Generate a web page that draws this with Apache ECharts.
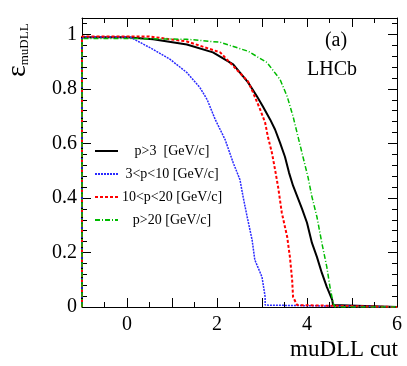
<!DOCTYPE html>
<html>
<head>
<meta charset="utf-8">
<script src="https://cdn.jsdelivr.net/npm/echarts@6/dist/echarts.min.js"></script>
<style>
html, body { margin: 0; padding: 0; background: #fff; }
#chart { width: 407px; height: 366px; }
</style>
</head>
<body>
<div id="chart"></div>
<script>
// series names (legend)
var names = ['p>3  [GeV/c]', '3<p<10 [GeV/c]', '10<p<20 [GeV/c]', 'p>20 [GeV/c]'];
var colors = ['#000000', '#2a2aff', '#ff0000', '#00bb00'];

// efficiency vs muDLL cut: [cut, eff]
var allP = [[-1, 0], [-1, 0.989], [0, 0.989], [0.58, 0.982], [1.33, 0.963], [1.91, 0.934], [2.36, 0.89],
    [2.69, 0.824], [2.89, 0.772], [3.02, 0.735], [3.18, 0.688], [3.29, 0.651], [3.4, 0.603],
    [3.51, 0.551], [3.6, 0.493], [3.69, 0.445], [3.89, 0.36], [4.0, 0.309],
    [4.11, 0.235], [4.22, 0.184], [4.33, 0.125], [4.44, 0.074], [4.56, 0.026], [4.58, 0.007],
    [4.6, 0], [6, 0]];
var lowP = [[-1, 0], [-1, 0.99], [0.07, 0.99], [0.58, 0.945], [0.96, 0.908], [1.33, 0.86], [1.62, 0.805],
    [1.78, 0.761], [1.96, 0.688], [2.18, 0.614], [2.36, 0.529], [2.51, 0.467], [2.58, 0.404],
    [2.67, 0.331], [2.78, 0.246], [2.84, 0.173], [3.0, 0.11], [3.07, 0.037], [3.07, 0.007],
    [3.1, 0], [6, 0]];
var midP = [[-1, 0], [-1, 0.992], [0.5, 0.992], [1.33, 0.974], [2.07, 0.934], [2.69, 0.827], [2.8, 0.787],
    [2.96, 0.724], [3.07, 0.676], [3.13, 0.625], [3.22, 0.566], [3.29, 0.504], [3.36, 0.438],
    [3.44, 0.346], [3.56, 0.257], [3.62, 0.184], [3.67, 0.099], [3.69, 0.037], [3.78, 0.007],
    [3.8, 0], [6, 0]];
var highP = [[-1, 0], [-1, 0.985], [0, 0.985], [1.33, 0.982], [2.07, 0.971], [2.69, 0.938], [3.11, 0.897],
    [3.4, 0.835], [3.56, 0.772], [3.69, 0.699], [3.8, 0.625], [3.91, 0.551], [4.02, 0.478],
    [4.11, 0.404], [4.22, 0.331], [4.33, 0.235], [4.44, 0.147], [4.51, 0.074], [4.58, 0.015],
    [4.62, 0], [6, 0]];

var xLabels = [0, 2, 4, 6];
var yLabels = [0, 0.2, 0.4, 0.6, 0.8, 1];

var font = 'Liberation Serif';
var dashes = ['solid', [2, 1], [3, 2], [5, 2, 1, 2]];
var widths = [2, 1.5, 2, 1.5];
var chart = echarts.init(document.getElementById('chart'));

function xAxisCfg(pos, showLabel) {
    return {
        type: 'value', position: pos, min: -1, max: 6, interval: 1,
        axisLine: { show: true, onZero: false, lineStyle: { color: '#000', width: 1 } },
        axisTick: { inside: true, length: 9, lineStyle: { color: '#000' } },
        minorTick: { show: true, splitNumber: 2, length: 5, lineStyle: { color: '#000' } },
        splitLine: { show: false },
        axisLabel: {
            show: showLabel, color: '#000', fontFamily: font, fontSize: 20, margin: 8,
            formatter: function (v) { return xLabels.indexOf(v) >= 0 ? String(v) : ''; }
        }
    };
}
function yAxisCfg(pos, showLabel) {
    return {
        type: 'value', position: pos, min: 0, max: 1.06, interval: 0.2,
        axisLine: { show: true, onZero: false, lineStyle: { color: '#000', width: 1 } },
        axisTick: { inside: true, length: 9, lineStyle: { color: '#000' } },
        minorTick: { show: true, splitNumber: 5, length: 5, lineStyle: { color: '#000' } },
        splitLine: { show: false },
        axisLabel: {
            show: showLabel, color: '#000', fontFamily: font, fontSize: 20, margin: 5,
            formatter: function (v) {
                var r = Math.round(v * 10) / 10;
                return yLabels.indexOf(r) >= 0 && Math.abs(v - r) < 1e-6 ? String(r) : '';
            }
        }
    };
}

var seriesData = [allP, lowP, midP, highP];
var series = [];
var legendData = [];
for (var i = 0; i < names.length; i++) {
    series.push({
        name: names[i], type: 'line', data: seriesData[i], symbol: 'none',
        lineStyle: { color: colors[i], width: widths[i], type: dashes[i] },
        itemStyle: { color: colors[i] }
    });
    legendData.push({
        name: names[i],
        itemStyle: { opacity: 0 },
        lineStyle: { color: colors[i], width: 2, type: dashes[i] }
    });
}

var option = {
    animation: false,
    backgroundColor: '#fff',
    grid: { left: 82, right: 10, top: 18, bottom: 59 },
    xAxis: [xAxisCfg('bottom', true), xAxisCfg('top', false)],
    yAxis: [yAxisCfg('left', true), yAxisCfg('right', false)],
    legend: {
        orient: 'vertical', left: 89, top: 139, itemWidth: 23, itemHeight: 14, itemGap: 9,
        data: legendData,
        formatter: function (n) { return '{c|' + n + '}'; },
        textStyle: {
            color: '#000', fontFamily: font, fontSize: 14,
            rich: { c: { width: 98, align: 'center', fontFamily: font, fontSize: 14, color: '#000' } }
        }
    },
    graphic: [
        {
            type: 'text', x: 18, y: 77, rotation: Math.PI / 2,
            style: {
                text: '{e|ε}{s|muDLL}', align: 'left', verticalAlign: 'middle',
                rich: {
                    e: { fontFamily: font, fontSize: 28, fill: '#000' },
                    s: { fontFamily: font, fontSize: 13, fill: '#000', padding: [14, 0, 0, 0] }
                }
            }
        },
        { type: 'text', x: 398, y: 350, style: { text: 'muDLL cut', align: 'right', verticalAlign: 'middle', font: '23px "Liberation Serif"', fill: '#000' } },
        { type: 'text', x: 336, y: 41, style: { text: '(a)', align: 'center', verticalAlign: 'middle', font: '20px "Liberation Serif"', fill: '#000' } },
        { type: 'text', x: 332, y: 70, style: { text: 'LHCb', align: 'center', verticalAlign: 'middle', font: '20px "Liberation Serif"', fill: '#000' } }
    ],
    series: series
};
chart.setOption(option);
</script>
</body>
</html>
